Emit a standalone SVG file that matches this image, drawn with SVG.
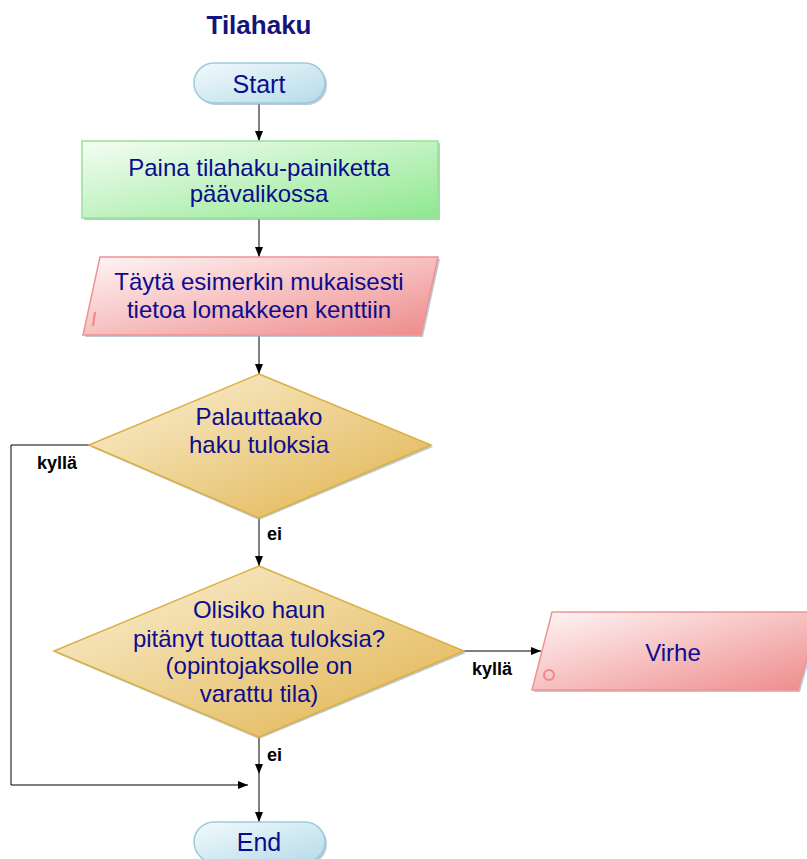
<svg xmlns="http://www.w3.org/2000/svg" width="807" height="859" viewBox="0 0 807 859">
<defs>
<linearGradient id="gBlue" x1="0" y1="0" x2="1" y2="1"><stop offset="0" stop-color="#f2fafd"/><stop offset="1" stop-color="#b6dbe8"/></linearGradient>
<linearGradient id="gGreen" x1="0" y1="0" x2="1" y2="1"><stop offset="0" stop-color="#f4fdf4"/><stop offset="1" stop-color="#8fe88f"/></linearGradient>
<linearGradient id="gRed" x1="0" y1="0" x2="1" y2="1"><stop offset="0" stop-color="#fff6f6"/><stop offset="1" stop-color="#ee8a8a"/></linearGradient>
<linearGradient id="gGold" x1="0" y1="0" x2="1" y2="1"><stop offset="0" stop-color="#fbf1d8"/><stop offset="1" stop-color="#e0b24a"/></linearGradient>
<marker id="arr" viewBox="0 0 10 10" refX="10" refY="5" markerWidth="10" markerHeight="10" markerUnits="userSpaceOnUse" orient="auto"><path d="M0,1 L10,5 L0,9 Z" fill="#000"/></marker>
</defs>
<style>
.t{font-family:"Liberation Sans",Arial,sans-serif;font-size:24px;fill:#0c0c8e;text-anchor:middle}
.lb{font-family:"Liberation Sans",Arial,sans-serif;font-size:18px;font-weight:bold;fill:#000}
.c{fill:none;stroke:#000;stroke-width:1}
.sh{fill:#8fa3b8;opacity:0.6}
</style>
<text x="259" y="34" style="font-family:'Liberation Sans',Arial,sans-serif;font-size:26px;font-weight:bold;fill:#14147a;text-anchor:middle">Tilahaku</text>
<g id="connectors">
<line class="c" x1="259" y1="104" x2="259" y2="141" marker-end="url(#arr)"/>
<line class="c" x1="259" y1="219" x2="259" y2="257" marker-end="url(#arr)"/>
<line class="c" x1="259" y1="336" x2="259" y2="374" marker-end="url(#arr)"/>
<line class="c" x1="259" y1="518" x2="259" y2="566" marker-end="url(#arr)"/>
<line class="c" x1="464" y1="651" x2="541" y2="651" marker-end="url(#arr)"/>
<line class="c" x1="259" y1="737" x2="259" y2="774" marker-end="url(#arr)"/>
<line class="c" x1="259" y1="774" x2="259" y2="822" marker-end="url(#arr)"/>
<polyline class="c" points="89,445 11,445 11,785 248,785" marker-end="url(#arr)"/>
<text class="lb" x="37" y="469">kyllä</text>
<text class="lb" x="267" y="540">ei</text>
<text class="lb" x="472" y="675">kyllä</text>
<text class="lb" x="267" y="761">ei</text>
</g>
<g id="start">
<rect x="196" y="65" width="131" height="40" rx="20" class="sh"/>
<rect x="194" y="63" width="131" height="40" rx="20" fill="url(#gBlue)" stroke="#9ccbdc" stroke-width="1.5"/>
<text class="t" x="259" y="93" style="font-size:25px">Start</text>
</g>
<g id="step1">
<rect x="84" y="143" width="356" height="77" class="sh"/>
<rect x="82" y="141" width="356" height="77" fill="url(#gGreen)" stroke="#96e296" stroke-width="1.5"/>
<text class="t" x="259" y="176">Paina tilahaku-painiketta</text>
<text class="t" x="259" y="202">päävalikossa</text>
</g>
<g id="step2">
<polygon points="102,259 440,259 423,337 85,337" class="sh"/>
<polygon points="100,257 438,257 421,335 83,335" fill="url(#gRed)" stroke="#ef9292" stroke-width="1.5"/>
<line x1="95" y1="312" x2="93" y2="326" stroke="#ee8888" stroke-width="2"/>
<text class="t" x="259" y="290">Täytä esimerkin mukaisesti</text>
<text class="t" x="259" y="318">tietoa lomakkeen kenttiin</text>
</g>
<g id="dec1">
<polygon points="259,376 433,447 259,520 91,447" class="sh"/>
<polygon points="259,374 431,445 259,518 89,445" fill="url(#gGold)" stroke="#dcb040" stroke-width="1.5"/>
<text class="t" x="259" y="425">Palauttaako</text>
<text class="t" x="259" y="453">haku tuloksia</text>
</g>
<g id="dec2">
<polygon points="259,568 466,653 259,739 56,653" class="sh"/>
<polygon points="259,566 464,651 259,737 54,651" fill="url(#gGold)" stroke="#dcb040" stroke-width="1.5"/>
<text class="t" x="259" y="618">Olisiko haun</text>
<text class="t" x="259" y="647">pitänyt tuottaa tuloksia?</text>
<text class="t" x="259" y="674">(opintojaksolle on</text>
<text class="t" x="259" y="702">varattu tila)</text>
</g>
<g id="virhe">
<polygon points="554,614 822,614 800,692 534,692" class="sh"/>
<polygon points="552,612 820,612 798,690 532,690" fill="url(#gRed)" stroke="#ef9292" stroke-width="1.5"/>
<circle cx="549" cy="675" r="5" fill="none" stroke="#ee8888" stroke-width="2"/>
<text class="t" x="673" y="661">Virhe</text>
</g>
<g id="end">
<rect x="196" y="824" width="131" height="40" rx="20" class="sh"/>
<rect x="194" y="822" width="131" height="40" rx="20" fill="url(#gBlue)" stroke="#9ccbdc" stroke-width="1.5"/>
<text class="t" x="259" y="851" style="font-size:25px">End</text>
</g>
</svg>
